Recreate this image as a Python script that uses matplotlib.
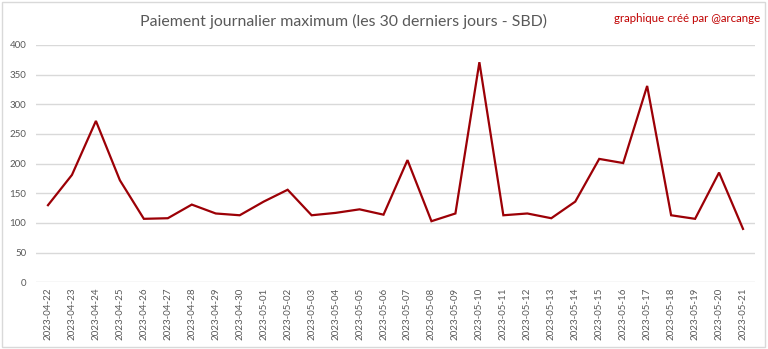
import matplotlib
matplotlib.use("Agg")
import matplotlib.pyplot as plt
from matplotlib.patches import Rectangle
import pandas as pd

dates = [d.strftime("%Y-%m-%d") for d in pd.date_range("2023-04-22", "2023-05-21")]
values = [130, 181, 272, 172, 107, 108, 131, 116, 113, 136,
          156, 113, 117, 123, 114, 206, 103, 116, 371, 113,
          116, 108, 136, 208, 201, 331, 113, 107, 185, 90]
y_ticks = [0, 50, 100, 150, 200, 250, 300, 350, 400]

plt.rcParams['font.family'] = ['Lato', 'DejaVu Sans']

fig = plt.figure(figsize=(7.68, 3.49), dpi=100)
ax = fig.add_axes([36/768, 1-282.3/349, (755-36)/768, (282.3-45)/349])

x = list(range(len(dates)))
ax.plot(x, values, color='#9c0006', lw=1.6, solid_joinstyle='miter')
ax.set_xlim(-0.5, len(dates)-0.5)
ax.set_ylim(0, 400)
ax.set_yticks(y_ticks)
ax.set_xticks(x)
ax.set_xticklabels(dates, rotation=90, fontsize=7, color='#595959')
ax.tick_params(axis='y', labelsize=7, labelcolor='#595959', length=0, pad=7)
ax.tick_params(axis='x', length=0, pad=4)
ax.grid(axis='y', color='#d9d9d9', lw=1)
ax.set_axisbelow(True)
for s in ax.spines.values():
    s.set_visible(False)

fig.text(343/768, 1-21/349, "Paiement journalier maximum (les 30 derniers jours - SBD)",
         ha='center', va='center', fontsize=11.4, color='#595959')
fig.text(760/768, 1-19/349, "graphique créé par @arcange", ha='right', va='center',
         fontsize=8.3, color='#c00000')
fig.patches.append(Rectangle((2/768, 2/349), 763/768, 345/349, transform=fig.transFigure,
                             fill=False, edgecolor='#d9d9d9', lw=1))
fig.savefig("out.png", dpi=100)
